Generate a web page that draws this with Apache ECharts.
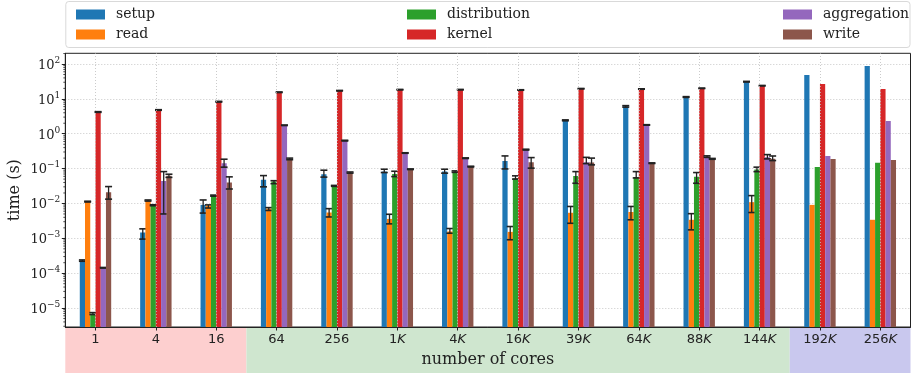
<!DOCTYPE html>
<html>
<head>
<meta charset="utf-8">
<script src="https://cdn.jsdelivr.net/npm/echarts@6/dist/echarts.min.js"></script>
<style>
  html, body { margin: 0; padding: 0; background: #ffffff; }
  #chart { width: 911px; height: 373px; }
</style>
</head>
<body>
<div id="chart"></div>
<script>
// Core counts along the x axis
const categories = ['1', '4', '16', '64', '256', '1K', '4K', '16K', '39K', '64K', '88K', '144K', '192K', '256K'];

// Mean time per phase (seconds)
const setupValues        = [2.3e-4, 1.47e-3, 0.0091, 0.0475, 0.069, 0.082, 0.082, 0.166, 2.43, 6.1, 11.3, 31.1, 48.4, 87.7];
const readValues         = [0.0113, 0.0121, 0.0086, 0.00714, 0.0055, 0.0036, 0.00157, 0.00153, 0.0054, 0.0057, 0.0034, 0.0109, 0.0091, 0.0034];
const distributionValues = [6.9e-6, 0.0089, 0.0168, 0.0425, 0.032, 0.0705, 0.082, 0.053, 0.0618, 0.057, 0.058, 0.094, 0.112, 0.146];
const kernelValues       = [4.2, 4.8, 8.3, 15.5, 17.2, 18.4, 18.4, 18.0, 19.6, 19.2, 20.1, 23.9, 26.7, 19.2];
const aggregationValues  = [1.43e-4, 0.044, 0.143, 1.75, 0.635, 0.28, 0.199, 0.35, 0.152, 1.79, 0.221, 0.212, 0.231, 2.33];
const writeValues        = [0.021, 0.062, 0.0397, 0.19, 0.077, 0.096, 0.114, 0.152, 0.15, 0.143, 0.19, 0.193, 0.19, 0.177];

// Spread [low, high] of each measurement; null where only one run exists
const setupErr = [[2.2e-4, 2.4e-4], [9.5e-4, 1.87e-3], [0.0053, 0.0126], [0.030, 0.063], [0.057, 0.09], [0.077, 0.096], [0.074, 0.096], [0.098, 0.231], [2.35, 2.5], [5.8, 6.4], [11.0, 11.6], [30.5, 31.8], null, null];
const readErr = [[0.011, 0.0116], [0.0117, 0.0126], [0.0074, 0.0091], [0.0063, 0.0076], [0.0041, 0.0071], [0.0026, 0.0049], [0.0014, 0.00191], [0.00091, 0.00218], [0.0027, 0.0082], [0.0034, 0.0082], [0.00175, 0.0051], [0.0055, 0.0168], null, null];
const distributionErr = [[6.5e-6, 7.4e-6], [0.0086, 0.0092], [0.0162, 0.0174], [0.037, 0.045], [0.031, 0.033], [0.059, 0.084], [0.078, 0.086], [0.05, 0.062], [0.038, 0.082], [0.054, 0.082], [0.038, 0.077], [0.082, 0.11], null, null];
const kernelErr = [[4.1, 4.3], [4.7, 4.9], [8.1, 8.5], [15.2, 15.8], [16.9, 17.5], [18.1, 18.7], [18.1, 18.7], [17.7, 18.3], [19.3, 19.9], [18.9, 19.5], [19.8, 20.4], [23.5, 24.3], null, null];
const aggregationErr = [[1.4e-4, 1.46e-4], [0.005, 0.082], [0.11, 0.186], [1.72, 1.78], [0.62, 0.65], [0.275, 0.285], [0.195, 0.203], [0.34, 0.36], [0.139, 0.21], [1.76, 1.82], [0.21, 0.232], [0.19, 0.252], null, null];
const writeErr = [[0.0133, 0.0305], [0.056, 0.069], [0.026, 0.058], [0.18, 0.2], [0.074, 0.08], [0.094, 0.098], [0.111, 0.117], [0.103, 0.207], [0.128, 0.2], [0.14, 0.146], [0.185, 0.196], [0.17, 0.23], null, null];

// Machine partitions shaded under the axis: [first category, last category]
const partitionSpans = [[0, 2], [3, 11], [12, 13]];

// Value axis range (seconds)
const yMin = 2.86e-6;
const yMax = 203;

const SERIF = '"DejaVu Serif", serif';
const SANS = '"DejaVu Sans", sans-serif';
const INK = '#222222';
const palette = ['#1f77b4', '#ff7f0e', '#2ca02c', '#d62728', '#9467bd', '#8c564b'];
const partitionColors = ['#fdcfcf', '#cfe6cf', '#c9c8ee'];
const BAR_FRACTION = 0.0867;
const CAP = 7;

const phases = [
  { name: 'setup', values: setupValues, err: setupErr },
  { name: 'read', values: readValues, err: readErr },
  { name: 'distribution', values: distributionValues, err: distributionErr },
  { name: 'kernel', values: kernelValues, err: kernelErr },
  { name: 'aggregation', values: aggregationValues, err: aggregationErr },
  { name: 'write', values: writeValues, err: writeErr }
];

function barRenderer(slot) {
  return function (params, api) {
    const cat = api.value(0);
    const v = api.value(1);
    const cs = params.coordSys;
    const top = api.coord([cat, v]);
    const band = api.coord([1, v])[0] - api.coord([0, v])[0];
    const w = band * BAR_FRACTION;
    const cx = top[0] + (slot - 2.5) * w;
    const bottom = cs.y + cs.height;
    const children = [{
      type: 'rect',
      shape: { x: cx - w / 2, y: top[1], width: w, height: bottom - top[1] },
      style: { fill: api.visual('color') }
    }];
    const lo = api.value(2);
    const hi = api.value(3);
    if (lo > 0 && hi > 0) {
      const yLo = api.coord([cat, lo])[1];
      const yHi = api.coord([cat, hi])[1];
      children.push(
        { type: 'line', shape: { x1: cx, y1: yHi, x2: cx, y2: yLo }, style: { stroke: INK, lineWidth: 1.3 } },
        { type: 'line', shape: { x1: cx - CAP / 2, y1: yHi, x2: cx + CAP / 2, y2: yHi }, style: { stroke: INK, lineWidth: 1.6 } },
        { type: 'line', shape: { x1: cx - CAP / 2, y1: yLo, x2: cx + CAP / 2, y2: yLo }, style: { stroke: INK, lineWidth: 1.6 } }
      );
    }
    return { type: 'group', children: children };
  };
}

const series = phases.map(function (p, slot) {
  const s = {
    name: p.name,
    type: 'custom',
    renderItem: barRenderer(slot),
    itemStyle: { color: palette[slot] },
    encode: { x: 0, y: 1 },
    data: p.values.map(function (v, i) {
      const e = p.err[i];
      return [i, v, e ? e[0] : 0, e ? e[1] : 0];
    }),
    animation: false,
    silent: true
  };
  if (slot === phases.length - 1) {
    s.markLine = {
      silent: true,
      symbol: ['none', 'none'],
      label: { show: false },
      animation: false,
      lineStyle: { type: [1, 2], color: 'rgba(190,190,190,0.8)', width: 1 },
      data: categories.map(function (c) { return { xAxis: c }; })
    };
  }
  return s;
});

const SUP = { '-': '\u2212' };
function powLabel(value) {
  const e = Math.log10(value);
  const r = Math.round(e);
  if (Math.abs(e - r) > 1e-6) return '';
  const exp = String(r).split('').map(function (ch) { return SUP[ch] || ch; }).join('');
  return '{b|10}{s|' + exp + '}';
}

const legendLefts = [71, 402, 778];
const legends = [0, 1, 2].map(function (c) {
  return {
    data: phases.slice(c * 2, c * 2 + 2).map(function (p) { return p.name; }),
    orient: 'vertical',
    left: legendLefts[c],
    top: 1.5,
    icon: 'rect',
    itemWidth: 29,
    itemHeight: 10,
    itemGap: 4,
    selectedMode: false,
    textStyle: { fontFamily: SERIF, fontSize: 14, color: INK, lineHeight: 16, padding: [0, 0, 0, 6] }
  };
});

const chart = echarts.init(document.getElementById('chart'), null, { renderer: 'canvas' });

chart.setOption({
  animation: false,
  backgroundColor: '#ffffff',
  legend: legends,
  grid: {
    left: 65.3, right: 0.5, top: 53.3, bottom: 46,
    containLabel: false,
    outerBoundsMode: 'none',
    show: true, borderColor: INK, borderWidth: 1, backgroundColor: 'transparent'
  },
  xAxis: {
    type: 'category',
    data: categories,
    boundaryGap: true,
    axisLine: { show: true, lineStyle: { color: INK, width: 1 } },
    axisTick: { show: true, alignWithLabel: true, length: 3.5, lineStyle: { color: INK } },
    splitLine: { show: false },
    axisLabel: {
      color: INK, fontFamily: SANS, fontSize: 13, margin: 6, interval: 0,
      formatter: function (v) { return v.replace('K', '{k|K}'); },
      rich: { k: { fontFamily: SANS, fontSize: 13, fontStyle: 'italic', color: INK } }
    },
    name: 'number of cores',
    nameLocation: 'middle',
    nameGap: 25,
    nameMoveOverlap: false,
    nameTextStyle: { fontFamily: SERIF, fontSize: 16, color: INK }
  },
  yAxis: {
    type: 'log',
    logBase: 10,
    min: yMin,
    max: yMax,
    splitNumber: 8,
    axisLine: { show: true, lineStyle: { color: INK, width: 1 } },
    axisTick: { show: true, length: 3.5, lineStyle: { color: INK } },
    splitLine: { show: true, showMinLine: false, showMaxLine: false, lineStyle: { type: [1, 2], color: '#c8c8c8', width: 1 } },
    axisLabel: {
      color: INK, margin: 5, showMinLabel: false, showMaxLabel: false,
      formatter: powLabel,
      rich: {
        b: { fontFamily: SERIF, fontSize: 13, color: INK, lineHeight: 16, verticalAlign: 'bottom' },
        s: { fontFamily: SERIF, fontSize: 9, color: INK, lineHeight: 16, verticalAlign: 'top' }
      }
    },
    name: 'time (s)',
    nameLocation: 'middle',
    nameGap: 42,
    nameMoveOverlap: false,
    nameTextStyle: { fontFamily: SERIF, fontSize: 16, color: INK }
  },
  series: series
});

// Decorations positioned through the axes: partition shading, legend frame, log minor ticks
function decorate() {
  const x0 = chart.convertToPixel({ xAxisIndex: 0 }, 0);
  const x1 = chart.convertToPixel({ xAxisIndex: 0 }, 1);
  const band = x1 - x0;
  const yBottom = chart.convertToPixel({ yAxisIndex: 0 }, yMin);
  const gridLeft = x0 - band / 2;
  const gridRight = chart.convertToPixel({ xAxisIndex: 0 }, categories.length - 1) + band / 2;
  const H = chart.getHeight();
  const elements = [];

  partitionSpans.forEach(function (span, k) {
    const a = chart.convertToPixel({ xAxisIndex: 0 }, span[0]) - band / 2;
    const b = chart.convertToPixel({ xAxisIndex: 0 }, span[1]) + band / 2;
    elements.push({
      type: 'rect', z: -10, silent: true,
      shape: { x: a, y: yBottom, width: b - a, height: H - yBottom },
      style: { fill: partitionColors[k] }
    });
  });

  elements.push({
    type: 'rect', z: -10, silent: true,
    shape: { x: gridLeft + 0.5, y: 1.5, width: gridRight - gridLeft - 1, height: 46, r: 3 },
    style: { fill: '#ffffff', stroke: '#d9d9d9', lineWidth: 1 }
  });

  for (let n = -6; n <= 2; n++) {
    for (let k = 2; k <= 9; k++) {
      const v = k * Math.pow(10, n);
      if (v <= yMin || v >= yMax) continue;
      const y = chart.convertToPixel({ yAxisIndex: 0 }, v);
      elements.push({
        type: 'line', silent: true, z: 5,
        shape: { x1: gridLeft - 2, y1: y, x2: gridLeft, y2: y },
        style: { stroke: INK, lineWidth: 0.8 }
      });
    }
  }

  chart.setOption({ graphic: { elements: elements } });
}
decorate();
</script>
</body>
</html>
